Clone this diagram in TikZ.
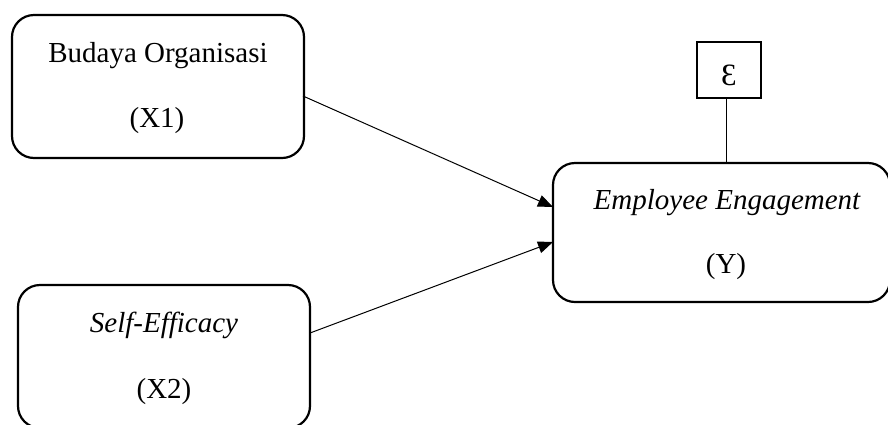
\documentclass[tikz,border=0pt]{standalone}
\usepackage{fontspec}
\setmainfont{Liberation Serif}
\usetikzlibrary{arrows.meta}
\begin{document}
\begin{tikzpicture}[x=1pt,y=-1pt,
  var/.style={draw=black,line width=2.2pt,rounded corners=22pt,inner sep=0pt},
  lbl/.style={anchor=base,inner sep=0pt,font=\fontsize{29}{34}\selectfont},
  conn/.style={line width=1pt,-{Triangle[length=15pt,width=12pt]}}]
\clip (0,0) rectangle (888,424);
\fill[white] (0,0) rectangle (888,424);
% boxes
\node[var,minimum width=292pt,minimum height=143pt] (x1) at (158,86.5) {};
\node[var,minimum width=292pt,minimum height=143pt] (x2) at (164,356.5) {};
\node[var,minimum width=337pt,minimum height=139pt] (y) at (721.5,232.5) {};
\node[draw=black,line width=2.2pt,minimum width=64pt,minimum height=56pt,inner sep=0pt] (eps) at (729,70) {};
% labels
\node[lbl] (x1a) at (158,62) {Budaya Organisasi};
\node[lbl] (x1b) at (157,127) {(X1)};
\node[lbl] (x2a) at (164,332) {\itshape Self-Efficacy};
\node[lbl] (x2b) at (164,398) {(X2)};
\node[lbl] (ya) at (727,209) {\itshape Employee Engagement};
\node[lbl] (yb) at (726,273) {(Y)};
\node[font=\fontsize{31}{34}\selectfont,inner sep=0pt] (epsl) at (729,75) {Ɛ};
% connectors
\coordinate (s1) at (303,96);
\coordinate (t1) at (553,207);
\coordinate (s2) at (310,333);
\coordinate (t2) at (553,242);
\draw[conn] (s1) -- (t1);
\draw[conn] (s2) -- (t2);
\draw[line width=1pt] (eps.south -| 726,0) -- (y.north -| 726,0);
\end{tikzpicture}
\end{document}
